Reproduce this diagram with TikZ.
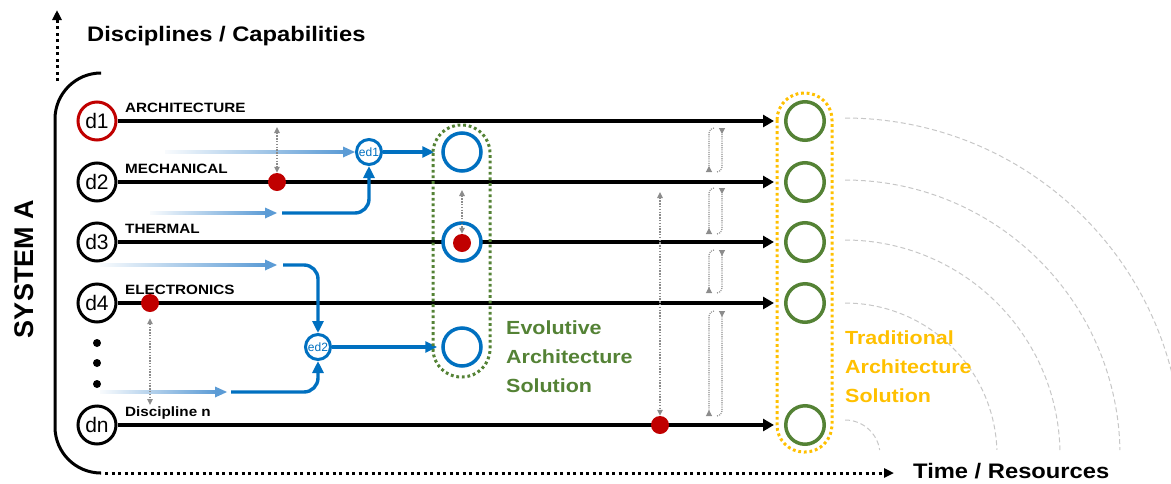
\documentclass[tikz,border=0pt]{standalone}
\usepackage{fontspec}
\setmainfont{Liberation Sans}
\newfontfamily\hsf[FakeStretch=1.13]{Liberation Sans}
\usetikzlibrary{arrows.meta,calc}
\definecolor{cblue}{RGB}{0,112,192}
\definecolor{cblueL}{RGB}{91,155,213}
\definecolor{cgreen}{RGB}{84,130,53}
\definecolor{cyellow}{RGB}{255,192,0}
\definecolor{cred}{RGB}{192,0,0}
\newcommand\fadearr[2]{%
  \shade[left color=cblueL!4, right color=cblueL] ($#1+(0,-1.7)$) rectangle ($#2+(-10,1.7)$);
  \fill[cblueL] #2 -- ++(-12,-5.5) -- ++(0,11) -- cycle;}
\tikzset{
  dcirc/.style={circle, draw=black, line width=3pt, fill=white, minimum size=38pt, inner sep=0pt, font=\fontsize{21}{21}\selectfont},
  ecirc/.style={circle, draw=cblue, line width=3.5pt, fill=white, minimum size=38pt, inner sep=0pt},
  tcirc/.style={circle, draw=cgreen, line width=3.5pt, fill=white, minimum size=38.5pt, inner sep=0pt},
  edcirc/.style={circle, draw=cblue, line width=3pt, fill=white, minimum size=25pt, inner sep=0pt, text=cblue, font=\fontsize{12}{12}\selectfont},
  rdot/.style={circle, fill=cred, minimum size=18pt, inner sep=0pt},
  bdot/.style={circle, fill=black, minimum size=8pt, inner sep=0pt},
  lab/.style={anchor=base west, inner sep=0pt, font=\hsf\bfseries\fontsize{13.5}{14}\selectfont},
  big/.style={anchor=base west, inner sep=0pt, font=\hsf\bfseries\fontsize{21}{21}\selectfont},
  sol/.style={anchor=base west, inner sep=0pt, align=left, font=\hsf\bfseries\fontsize{19}{29}\selectfont},
  tline/.style={line width=3.2pt, -{Triangle[length=11pt,width=12pt]}, shorten >=10pt},
  bline/.style={draw=cblue, line width=3.4pt, -{Triangle[length=12pt,width=11pt]}},
  gdarr/.style={draw=black!45, line width=1.4pt, dash pattern=on 1.4pt off 1.4pt, {Triangle[length=6pt,width=5.5pt]}-{Triangle[length=6pt,width=5.5pt]}},
  gloop/.style={draw=black!45, line width=1.1pt, dash pattern=on 1.1pt off 1.1pt, rounded corners=5pt, -{Triangle[reversed,length=6pt,width=6pt]}},
  axis/.style={line width=3pt, dash pattern=on 3pt off 3.5pt, -{Triangle[length=10pt,width=9pt]}},
  arcl/.style={draw=black!22, line width=1pt, dash pattern=on 5pt off 3pt},
  dotbox/.style={line width=3pt, dash pattern=on 2.8pt off 2.8pt}
}
\begin{document}
\begin{tikzpicture}[x=1pt,y=-1pt]
\useasboundingbox (0,0) rectangle (1171,483);
% background arcs
\begin{scope}
\clip (0,0) rectangle (1171,483);
\foreach \r/\e in {35/8.2,152/1.9,215/1.3,275/1.0,337/0.85}
  \draw[arcl] plot[domain=90:\e, samples=60, smooth] ({845+\r*cos(\x)}, {455-\r*sin(\x)});
\end{scope}
% axes and bracket
\draw[line width=3pt, rounded corners=46pt] (100,73) -- (55,73) -- (55,473) -- (100,473);
\coordinate (ya) at (57,81);
\coordinate (yb) at (57,10);
\draw[axis] (ya) -- (yb);
\coordinate (xa) at (105,473);
\coordinate (xb) at (894,473);
\draw[axis] (xa) -- (xb);
\node[big] (ylab) at (87,41) {Disciplines / Capabilities};
\node[big] (xlab) at (913,478) {Time / Resources};
\node[rotate=90, font=\bfseries\fontsize{27}{27}\selectfont] (sys) at (24,269) {SYSTEM A};
% discipline nodes
\node[dcirc, draw=cred] (d1) at (97,121) {d1};
\node[dcirc] (d2) at (97,182) {d2};
\node[dcirc] (d3) at (97,242) {d3};
\node[dcirc] (d4) at (97,303) {d4};
\node[dcirc] (dn) at (97,425) {dn};
\node[bdot] (k1) at (97,343) {};
\node[bdot] (k2) at (97,363) {};
\node[bdot] (k3) at (97,384) {};
\node[lab] (l1) at (125,112) {ARCHITECTURE};
\node[lab] (l2) at (125,173) {MECHANICAL};
\node[lab] (l3) at (125,233) {THERMAL};
\node[lab] (l4) at (125,294) {ELECTRONICS};
\node[lab] (l5) at (125,416) {Discipline n};
% traditional solution circles
\node[tcirc] (t1) at (805,121) {};
\node[tcirc] (t2) at (805,182) {};
\node[tcirc] (t3) at (805,242) {};
\node[tcirc] (t4) at (805,303) {};
\node[tcirc] (t5) at (805,425) {};
% discipline lines
\draw[tline] (d1) -- (t1);
\draw[tline] (d2) -- (t2);
\draw[tline] (d3) -- (t3);
\draw[tline] (d4) -- (t4);
\draw[tline] (dn) -- (t5);
% evolutive circles
\node[ecirc] (e1) at (462,152) {};
\node[ecirc] (e2) at (462,242) {};
\node[ecirc] (e3) at (462,347) {};
% ed nodes
\node[edcirc] (ed1) at (369,152) {ed1};
\node[edcirc] (ed2) at (318,347) {ed2};
% fading inputs
\coordinate (f1) at (165,152);
\fadearr{(f1)}{(ed1.west)}
\coordinate (f2) at (150,213);
\coordinate (f2e) at (277,213);
\fadearr{(f2)}{(f2e)}
\coordinate (f3) at (100,265);
\coordinate (f3e) at (277,265);
\fadearr{(f3)}{(f3e)}
\coordinate (f4) at (100,392);
\coordinate (f4e) at (227,392);
\fadearr{(f4)}{(f4e)}
% solid blue connectors
\coordinate (s2) at (282,213);
\coordinate (s3) at (283,265);
\coordinate (s4) at (231,392);
\draw[bline, rounded corners=14pt] (s2) -| (ed1.south);
\draw[bline, rounded corners=14pt] (s3) -| (ed2.north);
\draw[bline, rounded corners=14pt] (s4) -| (ed2.south);
\draw[bline, shorten >=7pt] (ed1) -- (e1);
\draw[bline, shorten >=4pt] (ed2) -- (e3);
% red dots
\node[rdot] (r1) at (277,182) {};
\node[rdot] (r2) at (150,303) {};
\node[rdot] (r3) at (660,425) {};
\node[rdot] (r4) at (462,243) {};
% gray dotted double arrows
\coordinate (g1) at (277,127);
\coordinate (g2) at (150,405);
\coordinate (g3) at (660,192);
\coordinate (g4) at (462,190);
\draw[gdarr] (g1) -- (r1);
\draw[gdarr, shorten <=6pt] (r2) -- (g2);
\draw[gdarr] (g3) -- (r3);
\draw[gdarr] (g4) -- (r4);
% small loops
\foreach \t/\b [count=\i] in {128/172,188/234,250/293,311/416}{
  \coordinate (la\i) at (714,\t);
  \coordinate (lb\i) at (717,\b);
  \draw[gloop] (la\i) -- (709,\t) -- (709,\b);
  \draw[gloop] (lb\i) -- (722,\b) -- (722,\t);
}
% dotted frames
\draw[dotbox, draw=cgreen, rounded corners=28pt] (433,125) rectangle (490,377);
\draw[dotbox, draw=cyellow, rounded corners=27pt] (777,93) rectangle (832,452);
% solution labels (base anchor = last line)
\node[sol, text=cgreen] (evo) at (506,392) {Evolutive\\Architecture\\Solution};
\node[sol, text=cyellow] (tra) at (845,402) {Traditional\\Architecture\\Solution};
\end{tikzpicture}
\end{document}
